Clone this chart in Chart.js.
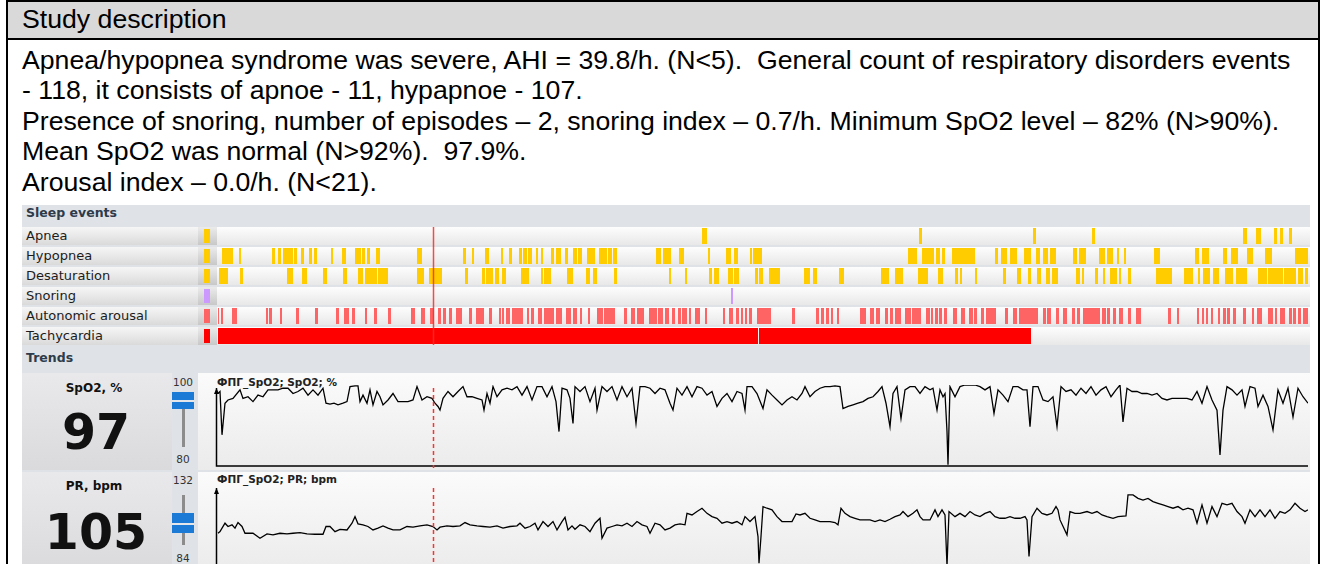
<!DOCTYPE html>
<html>
<head>
<meta charset="utf-8">
<title>Study description</title>
<script src="https://cdn.jsdelivr.net/npm/chart.js@4.4.1/dist/chart.umd.min.js"></script>
<style>
  html, body { margin: 0; padding: 0; }
  body { width: 1328px; height: 564px; overflow: hidden; position: relative; background: #fff;
         font-family: "Liberation Sans", Arial, sans-serif; color: #000; }
  .abs { position: absolute; }
  #frame { left: 6px; top: 0; width: 1314px; height: 600px; border: 2px solid #000; box-sizing: border-box; }
  #head { left: 8px; top: 2px; width: 1310px; height: 36px; background: #d9d9d9; border-bottom: 2px solid #000; }
  .txt { left: 22px; font-size: 26.67px; line-height: 30px; white-space: pre; }
  #panel { left: 22px; top: 205px; width: 1288px; height: 370px; background: #dfe2e6; }
  .sec { left: 26px; font: bold 12.5px "DejaVu Sans", sans-serif; line-height: 16px; color: #2d3b4b; }
  .rowlab { left: 22px; width: 176px; height: 18px; background: linear-gradient(#f6f6f6, #dadada);
            font: 13px "DejaVu Sans", sans-serif; line-height: 18px; padding-left: 4px; box-sizing: border-box; color: #1c1c1c; }
  .rowbtn { left: 198px; width: 19px; height: 18px; background: linear-gradient(#ebebeb, #c8c8c8); }
  .sw { left: 204px; width: 6px; height: 14px; }
  .rowbg { left: 217px; width: 1093px; height: 18px; background: linear-gradient(#fdfdfd, #e8e8e8); }
  .tlab { left: 22px; width: 150px; background: linear-gradient(#e9e9eb, #dadadd); }
  .tbg { left: 198px; width: 1112px; background: linear-gradient(#fbfbfb, #ebebeb); }
  .tname { left: 22px; width: 144px; text-align: center; font: bold 12px "DejaVu Sans", sans-serif; line-height: 14px; color: #111; }
  .tval { left: 22px; width: 148px; text-align: center; font: bold 49px "DejaVu Sans", sans-serif; line-height: 49px; color: #111; }
  .tick { left: 168px; width: 30px; text-align: center; font: 10.5px "DejaVu Sans", sans-serif; line-height: 12px; color: #333; }
  .slide { left: 182px; width: 3px; background: #8c8c8c; }
  .thumb { left: 172px; width: 22px; background: #1a7ad6; }
  .thumbcut { left: 172px; width: 22px; height: 2px; background: #e4e6ea; }
  .ttitle { left: 217px; font: bold 10.5px "DejaVu Sans", sans-serif; line-height: 12px; color: #222; }
  canvas { position: absolute; }
</style>
</head>
<body>
<div id="frame" class="abs"></div>
<div id="head" class="abs"></div>
<div class="abs txt" style="top:4px">Study description</div>
<div class="abs txt" style="top:45px">Apnea/hypopnea syndrome was severe, AHI = 39.8/h. (N&lt;5).  General count of respiratory disorders events</div>
<div class="abs txt" style="top:75px">- 118, it consists of apnoe - 11, hypapnoe - 107.</div>
<div class="abs txt" style="top:106px">Presence of snoring, number of episodes – 2, snoring index – 0.7/h. Minimum SpO2 level – 82% (N&gt;90%).</div>
<div class="abs txt" style="top:136px">Mean SpO2 was normal (N&gt;92%).  97.9%.</div>
<div class="abs txt" style="top:167px">Arousal index – 0.0/h. (N&lt;21).</div>

<div id="panel" class="abs"></div>
<div class="abs sec" style="top:205px">Sleep events</div>
<div id="rows"></div>
<div class="abs sec" style="top:350px">Trends</div>

<div class="abs tlab" style="top:373px;height:97px"></div>
<div class="abs tbg" style="top:373px;height:97px"></div>
<div class="abs tname" style="top:381px">SpO2, %</div>
<div class="abs tval" style="top:408px">97</div>
<div class="abs tick" style="top:376px">100</div>
<div class="abs tick" style="top:453px">80</div>
<div class="abs slide" style="top:393px;height:54px"></div>
<div class="abs thumb" style="top:392px;height:17px"></div>
<div class="abs thumbcut" style="top:400px"></div>
<div class="abs ttitle" style="top:376px">ФПГ_SpO2; SpO2; %</div>

<div class="abs tlab" style="top:472px;height:100px"></div>
<div class="abs tbg" style="top:472px;height:100px"></div>
<div class="abs tname" style="top:479px">PR, bpm</div>
<div class="abs tval" style="top:508px">105</div>
<div class="abs tick" style="top:474px">132</div>
<div class="abs tick" style="top:552px">84</div>
<div class="abs slide" style="top:495px;height:50px"></div>
<div class="abs thumb" style="top:513px;height:20px"></div>
<div class="abs thumbcut" style="top:523px"></div>
<div class="abs ttitle" style="top:473px">ФПГ_SpO2; PR; bpm</div>

<canvas id="events" width="1090" height="120" style="left:218px;top:226px"></canvas>
<canvas id="spo2" width="1112" height="97" style="left:198px;top:373px"></canvas>
<canvas id="pr" width="1112" height="96" style="left:198px;top:472px"></canvas>

<script>
// time axis: 10-second epochs from the start of the recording
const timeMax = 1090;
const cursorT = 215;

// sleep event rows
const rowLabels = ['Apnea', 'Hypopnea', 'Desaturation', 'Snoring', 'Autonomic arousal', 'Tachycardia'];
const rowColors = ['#ffcc00', '#ffcc00', '#ffcc00', '#cc99ff', '#ff6464', '#ff0000'];

const apneaEvents = [[484,489],[701,704],[815,818],[874,877],[1025,1029],[1038,1043],[1056,1059],[1062,1065],[1071,1074]];
const hypopneaEvents = [[4,15],[21,23],[54,57],[60,63],[65,75],[76,79],[83,86],[91,94],[96,99],[113,115],[124,128],
  [137,143],[144,147],[149,152],[158,162],[199,204],[245,248],[254,256],[267,271],[283,285],[291,294],[301,304],
  [305,309],[310,314],[318,320],[323,325],[333,336],[338,343],[347,350],[355,359],[360,364],[369,377],[381,389],
  [390,394],[395,399],[438,443],[445,453],[461,466],[490,492],[508,513],[516,520],[532,534],[535,544],[690,699],
  [704,716],[718,722],[724,727],[734,757],[777,780],[783,789],[792,799],[806,813],[818,822],[825,830],[832,838],
  [855,859],[861,868],[881,887],[889,895],[899,901],[906,908],[936,942],[977,981],[984,991],[1005,1009],[1013,1020],
  [1029,1035],[1047,1054],[1077,1090]];
const desatEvents = [[1,10],[22,25],[69,75],[84,89],[105,109],[125,129],[140,145],[147,159],[160,170],[199,206],
  [211,224],[247,250],[264,267],[268,275],[277,281],[284,288],[303,311],[323,325],[326,333],[349,355],[368,372],
  [375,379],[396,399],[451,453],[467,469],[491,494],[496,501],[510,515],[516,521],[537,540],[541,545],[551,562],
  [586,592],[595,599],[621,626],[663,671],[677,685],[700,710],[720,725],[737,740],[742,744],[757,759],[785,788],
  [799,803],[810,813],[819,823],[828,832],[834,840],[858,862],[864,866],[877,880],[885,887],[892,899],[901,903],
  [910,913],[938,954],[966,975],[980,982],[985,992],[995,1001],[1007,1015],[1018,1029],[1040,1049],[1050,1065],
  [1066,1078],[1080,1085],[1087,1090]];
const snoringEvents = [[513,515]];
const arousalEvents = [[0,1],[3,5],[14,19],[48,50],[51,54],[62,64],[78,81],[97,100],[118,121],[126,131],[134,137],
  [147,149],[156,159],[170,173],[193,197],[203,207],[212,216],[220,223],[225,228],[231,234],[238,244],[251,254],
  [258,266],[271,274],[281,283],[284,286],[288,292],[294,305],[309,311],[313,316],[320,324],[326,336],[338,344],
  [348,353],[355,359],[362,364],[370,372],[379,385],[386,397],[406,409],[413,417],[419,426],[431,439],[440,445],
  [447,451],[454,457],[460,463],[464,469],[471,473],[477,482],[487,489],[505,507],[511,515],[518,521],[523,525],
  [527,529],[531,534],[539,553],[574,577],[598,601],[603,606],[608,611],[613,615],[619,621],[642,648],[652,656],
  [658,662],[667,670],[672,675],[677,683],[687,693],[694,703],[708,712],[713,715],[717,720],[721,724],[726,729],
  [735,739],[743,747],[751,755],[756,759],[763,766],[768,778],[787,790],[795,799],[801,820],[825,828],[829,833],
  [838,841],[845,849],[854,857],[859,862],[865,882],[884,888],[889,892],[895,898],[901,905],[910,913],[918,923],
  [950,953],[959,961],[979,981],[984,986],[988,990],[993,995],[1000,1002],[1005,1008],[1009,1012],[1015,1018],
  [1025,1028],[1034,1036],[1039,1044],[1050,1055],[1057,1059],[1062,1067],[1071,1074],[1075,1078],[1080,1083],
  [1085,1090]];
const tachyEvents = [[0,540],[541,813]];

// trends: [epoch, value]
const spo2Samples = [[0,97.9],[2,98.4],[4,87.7],[7,95.5],[10,96.3],[15,96.7],[22,98.8],[25,96.7],[30,97.1],[35,95.9],
  [40,97.5],[45,97.1],[50,98.8],[55,98.8],[60,98.8],[65,99.2],[70,99.2],[75,97.9],[80,98.4],[85,99.2],[90,97.5],
  [95,98.8],[100,97.5],[105,99.2],[108,95.5],[112,95.3],[116,95.5],[120,95.1],[125,95.5],[129,95.9],[132,99.6],
  [137,99.8],[140,99.8],[142,95.9],[145,97.5],[149,95.5],[152,98.8],[155,95.1],[159,98.4],[162,97.1],[165,95.1],
  [170,96.3],[175,97.9],[180,95.9],[185,95.9],[190,95.9],[195,96.3],[199,99.6],[204,96.3],[209,97.1],[214,96.7],
  [217,95.5],[220,94.7],[222,93.8],[225,96.7],[230,98.4],[235,97.1],[240,98.4],[245,99.6],[249,97.1],[254,97.1],
  [259,96.7],[264,96.3],[266,93.8],[269,97.9],[272,95.5],[275,99.6],[279,97.1],[284,98.8],[289,99.2],[294,98.8],
  [299,99.6],[304,97.5],[309,99.6],[314,96.3],[319,99.6],[324,99.6],[329,97.1],[334,99.6],[338,95.9],[341,88.5],
  [344,99.2],[349,98.8],[352,96.7],[355,90.5],[357,99.6],[362,98.4],[367,99.6],[372,95.9],[377,99.2],[379,93.8],
  [384,99.6],[389,98.4],[394,99.6],[399,96.3],[404,99.6],[409,97.1],[414,99.2],[418,90.5],[422,99.6],[427,99.6],
  [432,99.2],[437,97.9],[442,99.2],[447,98.8],[452,95.5],[455,93.8],[459,99.2],[464,97.5],[469,99.6],[474,97.1],
  [479,99.6],[484,99.2],[489,97.5],[494,98.4],[499,94.7],[504,96.7],[509,97.9],[514,95.9],[519,98.4],[524,97.9],
  [527,93.8],[529,99.6],[534,99.6],[539,97.9],[545,94.2],[549,98.8],[554,97.5],[559,96.3],[564,95.1],[569,96.3],
  [574,97.1],[579,96.3],[584,97.9],[587,99.6],[592,97.1],[597,98.4],[602,99.2],[607,99.6],[612,99.6],[617,99.8],
  [622,99.6],[625,94.2],[630,94.7],[635,95.1],[640,95.5],[645,95.9],[650,96.7],[655,97.1],[660,98.4],[664,99.6],
  [668,95.5],[672,89.7],[675,97.9],[679,99.6],[683,91.7],[687,98.8],[692,99.6],[697,99.6],[702,97.9],[707,99.6],
  [712,98.8],[715,99.2],[719,93.8],[722,98.8],[725,97.1],[727,97.9],[729,88.5],[730,80.3],[732,99.6],[737,97.1],
  [742,99.6],[747,100],[752,100],[757,100],[762,99.6],[767,98.8],[772,99.6],[776,93.0],[780,98.8],[785,97.5],
  [790,95.9],[795,99.6],[800,99.6],[805,98.8],[809,98.8],[812,89.7],[815,99.6],[820,99.6],[825,96.3],[830,95.9],
  [835,97.1],[839,89.7],[843,99.6],[848,98.4],[853,98.8],[858,97.5],[863,99.2],[868,97.9],[873,99.6],[878,97.5],
  [883,98.8],[888,99.6],[893,97.1],[898,98.8],[902,100],[905,90.9],[909,99.2],[914,98.4],[919,98.4],[924,97.9],
  [929,97.9],[934,97.5],[939,97.9],[944,96.7],[949,96.3],[954,96.7],[959,96.7],[964,96.7],[969,96.7],[974,96.3],
  [979,98.4],[984,95.5],[989,99.6],[994,96.3],[999,93.8],[1002,82.7],[1005,93.8],[1009,99.6],[1014,98.8],[1019,97.5],
  [1024,98.8],[1027,94.7],[1032,99.6],[1037,99.2],[1040,94.7],[1045,97.5],[1050,94.7],[1055,88.9],[1060,98.8],
  [1065,95.5],[1070,99.2],[1075,92.1],[1080,99.2],[1085,97.1],[1090,95.5]];

const prSamples = [[0,103.9],[2,104.9],[7,110.0],[10,108.0],[14,109.0],[17,107.0],[20,110.4],[24,108.0],[27,103.9],
  [35,103.9],[42,100.9],[49,103.5],[55,102.9],[62,103.9],[69,103.5],[75,103.9],[82,104.3],[89,103.5],[97,103.3],
  [105,103.3],[108,108.0],[112,108.0],[117,104.9],[122,106.3],[129,105.9],[134,110.0],[137,114.0],[140,109.6],
  [145,109.0],[150,108.0],[155,105.9],[160,107.0],[165,108.4],[170,107.0],[175,105.9],[182,105.9],[189,108.0],
  [195,107.6],[202,108.4],[209,109.0],[215,108.0],[219,105.9],[222,107.6],[229,108.4],[235,108.0],[242,108.4],
  [247,110.4],[252,109.0],[259,108.4],[265,108.0],[272,107.6],[279,108.4],[285,107.0],[292,108.0],[299,108.4],
  [302,110.0],[307,107.0],[312,108.0],[317,110.0],[320,105.9],[325,111.0],[330,108.0],[335,111.0],[339,105.9],
  [344,111.0],[347,113.6],[350,105.9],[354,108.4],[357,106.3],[362,109.0],[367,108.0],[372,104.9],[377,110.0],
  [382,113.0],[384,100.9],[389,107.0],[394,108.0],[399,109.0],[404,108.4],[409,110.0],[414,108.0],[419,111.0],
  [424,109.0],[429,108.0],[432,103.9],[437,110.0],[442,109.0],[447,105.9],[452,107.0],[457,109.0],[462,109.6],
  [467,109.0],[469,116.0],[474,115.0],[479,117.1],[484,119.1],[489,116.0],[494,114.0],[499,113.0],[504,110.0],
  [509,111.0],[514,110.0],[519,111.0],[524,109.0],[527,114.0],[532,111.0],[537,114.0],[540,101.9],[541,85.7],
  [543,101.9],[545,120.1],[549,119.1],[554,118.1],[559,114.0],[564,111.0],[569,111.0],[574,111.0],[578,115.6],
  [582,115.0],[587,116.0],[592,113.0],[597,112.0],[602,111.0],[607,111.0],[612,111.0],[617,110.4],[620,109.0],
  [623,119.1],[627,116.0],[632,114.0],[637,113.0],[642,112.0],[647,112.0],[652,112.0],[657,111.0],[662,112.0],
  [667,111.0],[672,112.4],[677,114.0],[682,115.0],[685,117.1],[690,114.0],[695,116.0],[699,118.1],[702,114.0],
  [705,112.0],[712,112.0],[717,118.1],[720,114.0],[724,118.1],[727,115.0],[729,84.0],[731,117.1],[737,114.0],
  [742,116.0],[747,114.0],[752,117.1],[757,115.0],[762,114.0],[767,116.0],[772,117.1],[777,114.0],[782,113.0],
  [787,113.0],[792,114.0],[797,113.0],[802,113.0],[807,114.0],[809,112.0],[811,89.8],[814,114.0],[819,119.1],
  [824,116.0],[829,115.0],[834,116.0],[838,120.1],[840,118.1],[842,112.0],[849,102.9],[852,117.1],[857,116.0],
  [862,116.0],[869,117.1],[874,116.0],[879,117.1],[884,115.0],[889,114.0],[895,113.0],[900,114.0],[908,114.4],
  [910,127.2],[915,127.2],[920,125.1],[925,124.1],[930,125.1],[935,123.1],[940,122.1],[945,121.1],[950,120.1],
  [955,119.1],[960,120.1],[965,118.1],[970,119.1],[975,118.1],[979,110.0],[984,121.1],[989,110.0],[994,120.1],
  [999,114.0],[1004,122.1],[1009,121.1],[1014,122.1],[1019,117.1],[1024,114.0],[1027,110.0],[1032,118.1],
  [1037,114.0],[1042,118.1],[1047,114.0],[1052,118.1],[1057,113.0],[1062,117.1],[1067,116.0],[1072,118.1],
  [1077,122.1],[1082,119.1],[1087,117.1],[1090,118.1]];

const spo2Range = [80, 100];
const prRange = [84, 132];

// row backgrounds, labels and legend swatches
const rowsEl = document.getElementById('rows');
rowLabels.forEach((name, i) => {
  const top = 227 + i * 20;
  rowsEl.insertAdjacentHTML('beforeend',
    `<div class="abs rowlab" style="top:${top}px">${name}</div>` +
    `<div class="abs rowbtn" style="top:${top}px"></div>` +
    `<div class="abs sw" style="top:${top + 2}px;background:${rowColors[i]}"></div>` +
    `<div class="abs rowbg" style="top:${top}px"></div>`);
});

Chart.defaults.animation = false;
Chart.defaults.responsive = false;
Chart.defaults.plugins.legend.display = false;
Chart.defaults.plugins.tooltip.enabled = false;

// solid cursor across the event rows
const eventCursor = {
  id: 'eventCursor',
  afterDatasetsDraw(chart) {
    const { ctx, chartArea: a, scales: { x } } = chart;
    const px = Math.round(x.getPixelForValue(cursorT)) + 0.5;
    ctx.save();
    ctx.strokeStyle = 'rgba(255,40,40,0.85)';
    ctx.lineWidth = 1.5;
    ctx.beginPath();
    ctx.moveTo(px, a.top + 1);
    ctx.lineTo(px, a.bottom - 1);
    ctx.stroke();
    ctx.restore();
  }
};

// axes with an arrow on top and a dashed cursor
const trendAxes = {
  id: 'trendAxes',
  afterDatasetsDraw(chart, args, opts) {
    const { ctx, chartArea: a, scales: { x } } = chart;
    const lx = a.left + 0.5;
    ctx.save();
    ctx.strokeStyle = '#000';
    ctx.lineWidth = 1.5;
    ctx.beginPath();
    ctx.moveTo(lx, a.top + opts.arrowTop);
    ctx.lineTo(lx, a.bottom);
    ctx.lineTo(a.right, a.bottom);
    ctx.stroke();
    ctx.fillStyle = '#000';
    ctx.beginPath();
    ctx.moveTo(lx - 2.5, a.top + opts.arrowTop + 6);
    ctx.lineTo(lx + 2.5, a.top + opts.arrowTop + 6);
    ctx.lineTo(lx, a.top + opts.arrowTop);
    ctx.closePath();
    ctx.fill();
    const cx = Math.round(x.getPixelForValue(cursorT)) + 0.5;
    ctx.strokeStyle = '#ff3030';
    ctx.lineWidth = 1.5;
    ctx.setLineDash([4, 3]);
    ctx.beginPath();
    ctx.moveTo(cx, a.top + opts.arrowTop);
    ctx.lineTo(cx, a.bottom + 2);
    ctx.stroke();
    ctx.restore();
  }
};

new Chart(document.getElementById('events'), {
  type: 'bar',
  data: {
    labels: rowLabels,
    datasets: [apneaEvents, hypopneaEvents, desatEvents, snoringEvents, arousalEvents, tachyEvents].map((list, i) => ({
      data: list.map(iv => ({ x: iv, y: rowLabels[i] })),
      backgroundColor: rowColors[i],
      borderWidth: 0,
      grouped: false,
      barPercentage: 0.8,
      categoryPercentage: 1
    }))
  },
  options: {
    indexAxis: 'y',
    layout: { padding: 0 },
    scales: {
      x: { type: 'linear', min: 0, max: timeMax, display: false },
      y: { type: 'category', labels: rowLabels, display: false }
    }
  },
  plugins: [eventCursor]
});

function trendChart(id, samples, range, padding, arrowTop) {
  return new Chart(document.getElementById(id), {
    type: 'line',
    data: {
      datasets: [{
        data: samples.map(([t, v]) => ({ x: t, y: v })),
        borderColor: '#000',
        borderWidth: 1.3,
        pointRadius: 0,
        tension: 0
      }]
    },
    options: {
      layout: { padding },
      scales: {
        x: { type: 'linear', min: -2, max: timeMax, display: false },
        y: { min: range[0], max: range[1], display: false }
      },
      plugins: { trendAxes: { arrowTop } }
    },
    plugins: [trendAxes]
  });
}

trendChart('spo2', spo2Samples, spo2Range, { left: 18, right: 2, top: 12, bottom: 4 }, 3);
trendChart('pr', prSamples, prRange, { left: 18, right: 2, top: 15, bottom: 2 }, 1);
</script>
</body>
</html>
